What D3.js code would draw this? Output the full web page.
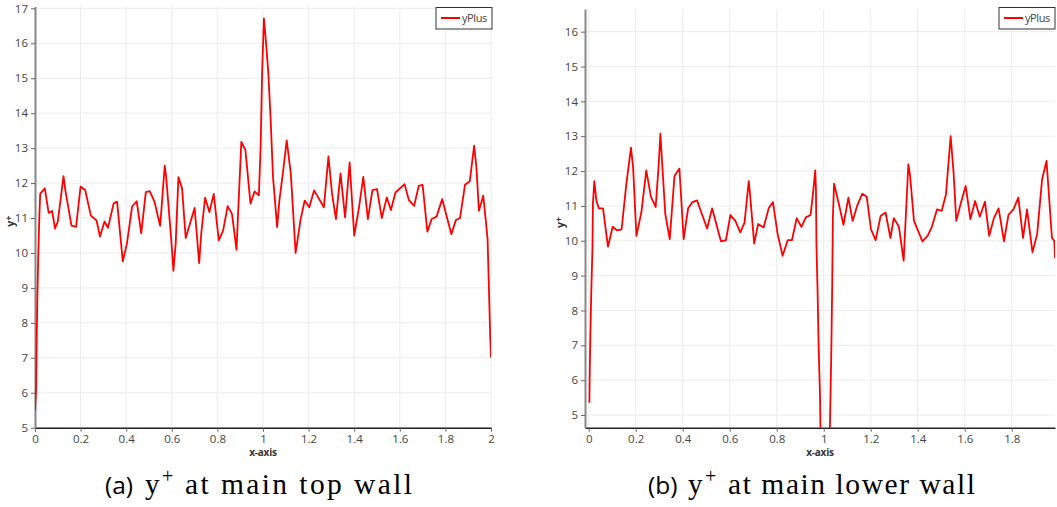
<!DOCTYPE html>
<html>
<head>
<meta charset="utf-8">
<script src="https://cdn.jsdelivr.net/npm/d3@7"></script>
<style>
  html, body { margin: 0; padding: 0; background: #fff; }
  svg { display: block; }
</style>
</head>
<body>
<svg id="chart" width="1057" height="507"></svg>
<script>
// ---- data: (a) y+ at main top wall ----
const topX = [0,0.005,0.007,0.01,0.014,0.019,0.023,0.043,0.06,0.075,0.088,0.1,0.125,0.133,0.16,0.18,0.2,0.22,0.245,0.27,0.285,0.305,0.32,0.345,0.36,0.385,0.403,0.426,0.446,0.466,0.486,0.503,0.524,0.549,0.569,0.575,0.599,0.607,0.617,0.629,0.645,0.661,0.70,0.72,0.729,0.746,0.765,0.784,0.806,0.825,0.845,0.864,0.884,0.89,0.905,0.923,0.945,0.963,0.982,0.99,0.996,1.004,1.01,1.023,1.033,1.044,1.062,1.072,1.087,1.104,1.122,1.143,1.165,1.183,1.203,1.224,1.267,1.287,1.303,1.32,1.34,1.36,1.38,1.4,1.421,1.44,1.46,1.48,1.5,1.521,1.543,1.561,1.581,1.621,1.64,1.663,1.683,1.7,1.721,1.74,1.761,1.786,1.826,1.846,1.864,1.886,1.907,1.926,1.936,1.947,1.966,1.976,1.985,1.99,1.993,1.996,2.0];
const topY = [5.5,6.15,7.35,8.6,9.85,11.05,11.7,11.85,11.15,11.2,10.7,10.9,12.2,11.8,10.78,10.75,11.9,11.8,11.07,10.93,10.47,10.9,10.72,11.42,11.47,9.76,10.26,11.33,11.48,10.56,11.74,11.77,11.47,10.78,12.5,12.2,10.26,9.49,10.26,12.17,11.85,10.43,11.29,9.71,10.55,11.58,11.17,11.69,10.36,10.64,11.34,11.12,10.09,11.03,13.18,12.94,11.41,11.76,11.65,13.13,15.14,16.71,16.28,15.19,13.89,12.17,10.74,11.51,12.27,13.22,12.27,10.0,10.97,11.5,11.31,11.79,11.31,12.76,11.69,10.97,12.28,11.02,12.59,10.5,11.3,12.18,10.97,11.8,11.83,11.0,11.59,11.23,11.73,11.97,11.51,11.35,11.92,11.95,10.61,10.97,11.04,11.54,10.54,10.94,11.0,11.95,12.05,13.07,12.45,11.21,11.64,11.0,10.4,9.2,8.5,7.7,7.0];

// ---- data: (b) y+ at main lower wall ----
const lowX = [0.003,0.004,0.007,0.011,0.016,0.018,0.024,0.033,0.043,0.061,0.082,0.102,0.12,0.14,0.16,0.18,0.189,0.203,0.224,0.245,0.265,0.285,0.298,0.305,0.312,0.326,0.345,0.365,0.386,0.404,0.423,0.44,0.461,0.482,0.504,0.525,0.543,0.563,0.584,0.603,0.624,0.645,0.663,0.681,0.686,0.704,0.721,0.744,0.766,0.784,0.804,0.825,0.847,0.865,0.885,0.905,0.924,0.944,0.954,0.964,0.967,0.969,0.974,0.978,0.984,0.988,1.024,1.032,1.036,1.039,1.044,1.063,1.084,1.105,1.123,1.142,1.164,1.183,1.201,1.221,1.242,1.263,1.284,1.298,1.32,1.34,1.36,1.367,1.384,1.42,1.442,1.46,1.482,1.502,1.52,1.54,1.552,1.564,1.584,1.604,1.624,1.644,1.664,1.686,1.704,1.724,1.744,1.767,1.786,1.807,1.828,1.848,1.865,1.888,1.908,1.929,1.948,1.971,1.981,1.984];
const lowY = [5.35,6.0,7.26,8.52,9.79,11.05,11.71,11.14,10.93,10.93,9.83,10.4,10.3,10.33,11.62,12.67,12.1,10.14,10.81,12.02,11.26,10.97,12.19,13.07,12.29,10.76,10.05,11.86,12.07,10.05,10.93,11.1,11.16,10.76,10.35,10.93,10.48,9.98,10.02,10.74,10.57,10.24,10.52,11.71,11.38,9.92,10.48,10.38,10.93,11.11,10.19,9.57,10.02,10.02,10.65,10.4,10.67,10.74,11.33,12.02,11.43,9.9,8.5,7.05,5.62,3.8,3.8,6.71,8.67,10.67,11.64,11.1,10.46,11.24,10.57,11.0,11.35,11.26,10.33,10.02,10.71,10.81,10.08,10.65,10.4,9.43,12.19,11.9,10.57,9.98,10.14,10.4,10.9,10.86,11.33,13.0,12.0,10.57,11.1,11.57,10.62,11.14,10.69,11.12,10.14,10.65,10.93,9.98,10.74,10.9,11.24,10.08,10.9,9.67,10.19,11.76,12.29,10.08,10.0,9.5];

const topXTicks = [0,0.2,0.4,0.6,0.8,1,1.2,1.4,1.6,1.8,2];
const topYTicks = [5,6,7,8,9,10,11,12,13,14,15,16,17];
const lowXTicks = [0,0.2,0.4,0.6,0.8,1,1.2,1.4,1.6,1.8];
const lowYTicks = [5,6,7,8,9,10,11,12,13,14,15,16];

const seriesName = "yPlus";
const xTitle = "x-axis";
const captions = [
  {tag: "(a)", rest: "at main top wall"},
  {tag: "(b)", rest: "at main lower wall"}
];

const svg = d3.select("#chart");
const defs = svg.append("defs");
const tickFont = "'Open Sans', 'DejaVu Sans', sans-serif";

function panel(id, xs, ys, xDom, yDom, xRange, yRange, xTicks, yTicks, legendX) {
  const x = d3.scaleLinear().domain(xDom).range(xRange);
  const y = d3.scaleLinear().domain(yDom).range(yRange);
  const g = svg.append("g");

  defs.append("clipPath").attr("id", "clip" + id)
    .append("rect").attr("x", xRange[0]).attr("y", yRange[1])
    .attr("width", xRange[1] - xRange[0]).attr("height", yRange[0] - yRange[1]);

  // grid
  g.append("g").selectAll("line").data(xTicks).join("line")
    .attr("x1", d => x(d)).attr("x2", d => x(d))
    .attr("y1", yRange[0]).attr("y2", yRange[1])
    .attr("stroke", "#ececec").attr("stroke-width", 1);
  g.append("g").selectAll("line").data(yTicks).join("line")
    .attr("y1", d => y(d)).attr("y2", d => y(d))
    .attr("x1", xRange[0]).attr("x2", xRange[1])
    .attr("stroke", "#ececec").attr("stroke-width", 1);

  // x axis
  const xa = g.append("g").attr("transform", `translate(0,${yRange[0]})`)
    .call(d3.axisBottom(x).tickValues(xTicks).tickSize(4).tickSizeOuter(0).tickPadding(3)
      .tickFormat(d => d3.format("~g")(d)));
  xa.select(".domain").attr("stroke", "#222").attr("stroke-width", 1.5);
  xa.selectAll(".tick line").attr("stroke", "#666");
  xa.selectAll("text").attr("font-family", tickFont).attr("font-size", 11.5).attr("fill", "#444");

  // y axis
  const ya = g.append("g").attr("transform", `translate(${xRange[0]},0)`)
    .call(d3.axisLeft(y).tickValues(yTicks).tickSize(4).tickSizeOuter(0).tickPadding(3));
  ya.select(".domain").attr("stroke", "#888").attr("stroke-width", 2);
  ya.selectAll(".tick line").attr("stroke", "#666");
  ya.selectAll("text").attr("font-family", tickFont).attr("font-size", 11.5).attr("fill", "#444");

  // titles
  g.append("text").attr("x", (xRange[0] + xRange[1]) / 2).attr("y", yRange[0] + 28)
    .attr("text-anchor", "middle").attr("font-family", tickFont).attr("font-weight", "bold")
    .attr("font-size", 10).attr("fill", "#333").attr("letter-spacing", -0.2).text(xTitle);
  const yt = g.append("text")
    .attr("transform", `translate(${xRange[0] - 21},${(yRange[0] + yRange[1]) / 2 + 4}) rotate(-90)`)
    .attr("text-anchor", "middle").attr("font-family", tickFont).attr("font-weight", "bold")
    .attr("font-size", 10.5).attr("fill", "#333");
  yt.append("tspan").text("y");
  yt.append("tspan").attr("font-size", 9).attr("dy", -2).text("+");

  // line
  const data = xs.map((v, i) => [v, ys[i]]);
  g.append("path").datum(data)
    .attr("clip-path", `url(#clip${id})`)
    .attr("fill", "none").attr("stroke", "#ff0000").attr("stroke-width", 1.8)
    .attr("stroke-linejoin", "round")
    .attr("d", d3.line().x(d => x(d[0])).y(d => y(d[1])));

  // legend
  const lg = g.append("g").attr("transform", `translate(${legendX},7.5)`);
  lg.append("rect").attr("width", 56).attr("height", 21.5)
    .attr("fill", "#fff").attr("stroke", "#333").attr("stroke-width", 1);
  lg.append("line").attr("x1", 5).attr("x2", 24).attr("y1", 10.5).attr("y2", 10.5)
    .attr("stroke", "#ff0000").attr("stroke-width", 2);
  lg.append("text").attr("x", 26).attr("y", 14.5).attr("font-family", tickFont)
    .attr("font-size", 11).attr("fill", "#444").attr("letter-spacing", -0.4).text(seriesName);
}

panel("a", topX, topY, [0, 2], [5, 17.05], [35, 491], [427.7, 6.6], topXTicks, topYTicks, 436);
panel("b", lowX, lowY, [-0.0157, 1.984], [4.636, 16.65], [585, 1055], [427.7, 9], lowXTicks, lowYTicks, 999);

// captions
[[105, 227, captions[0]], [648, 247, captions[1]]].forEach(([x0, w, c]) => {
  const base = 494;
  svg.append("text").attr("x", x0).attr("y", base)
    .attr("font-family", "'Open Sans', 'DejaVu Sans', sans-serif").attr("font-size", 24.5)
    .attr("fill", "#000").text(c.tag);
  svg.append("text").attr("x", x0 + 40).attr("y", base)
    .attr("font-family", "'Liberation Serif', serif").attr("font-size", 29)
    .attr("fill", "#000").text("y");
  svg.append("text").attr("x", x0 + 57).attr("y", base - 11.5)
    .attr("font-family", "'Liberation Serif', serif").attr("font-size", 20)
    .attr("fill", "#000").text("+");
  svg.append("text").attr("x", x0 + 80).attr("y", base)
    .attr("font-family", "'Liberation Serif', serif").attr("font-size", 29.5)
    .attr("fill", "#000").attr("textLength", w).attr("lengthAdjust", "spacing")
    .text(c.rest);
});
</script>
</body>
</html>
